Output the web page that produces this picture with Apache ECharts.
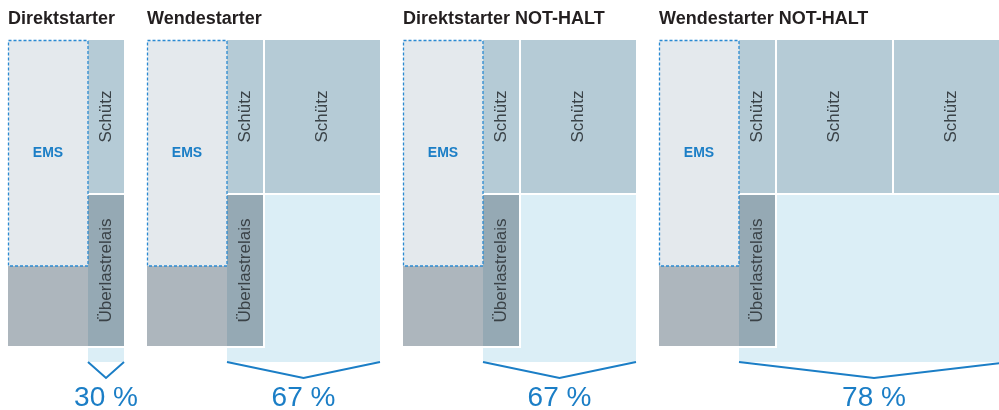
<!DOCTYPE html>
<html>
<head>
<meta charset="utf-8">
<script src="https://cdn.jsdelivr.net/npm/echarts@6/dist/echarts.min.js"></script>
<style>
  html, body { margin: 0; padding: 0; background: #fff; }
  #main { width: 999px; height: 410px; }
</style>
</head>
<body>
<div id="main"></div>
<script>
// Daten: vier Startervarianten
var starters = ['Direktstarter', 'Wendestarter', 'Direktstarter NOT-HALT', 'Wendestarter NOT-HALT'];
var extraSchuetz = [0, 1, 1, 2];   // zusätzliche Schütze je Variante
var savings = [30, 67, 67, 78];    // Platzersparnis in %

var chart = echarts.init(document.getElementById('main'));

// Layout (Achseneinheiten)
var EMS_W = 80, SCH_W = 36, BIG_W = 115, GAP = 2, PANEL_GAP = 23;
var TOP = 40, SCH_BOTTOM = 193, OVL_TOP = 195, EMS_BOTTOM = 266, BOTTOM = 346, BLUE_BOTTOM = 362, TIP = 378;

var panelLeft = [];
var left = 8;
for (var i = 0; i < starters.length; i++) {
    panelLeft.push(left);
    left += EMS_W + SCH_W + extraSchuetz[i] * (BIG_W + GAP) + PANEL_GAP;
}

var FONT = '"Liberation Sans", Arial, sans-serif';

function renderItem(params, api) {
    var i = api.value(0);
    var x0 = panelLeft[i];
    var right = x0 + EMS_W + SCH_W + extraSchuetz[i] * (BIG_W + GAP);
    var p = function (x, y) { return api.coord([x, y]); };
    var rect = function (x1, y1, x2, y2, style) {
        var a = p(x1, y1), b = p(x2, y2);
        return { type: 'rect', shape: { x: a[0], y: a[1], width: b[0] - a[0], height: b[1] - a[1] }, style: style };
    };
    var vtext = function (x, y, txt) {
        var c = p(x, y);
        return { type: 'text', x: c[0], y: c[1], rotation: Math.PI / 2,
            style: { text: txt, font: '17px ' + FONT, fill: '#3a4247', align: 'center', verticalAlign: 'middle' } };
    };
    var children = [];

    // hellblaue Fläche = gesparter Platz
    children.push(rect(x0 + EMS_W, OVL_TOP, right, BLUE_BOTTOM, { fill: '#dbeef6' }));

    // zusätzliche Schütze
    for (var k = 0; k < extraSchuetz[i]; k++) {
        var sx = x0 + EMS_W + SCH_W + GAP + k * (BIG_W + GAP);
        children.push(rect(sx, TOP, sx + BIG_W, SCH_BOTTOM, { fill: '#b5cbd6' }));
        children.push(vtext(sx + BIG_W / 2, (TOP + SCH_BOTTOM) / 2, 'Schütz'));
    }

    // weißer Rand, grauer Block, Überlastrelais
    children.push(rect(x0, OVL_TOP, x0 + EMS_W + SCH_W + GAP, BOTTOM + GAP, { fill: '#ffffff' }));
    children.push(rect(x0, EMS_BOTTOM, x0 + EMS_W, BOTTOM, { fill: '#adb6bd' }));
    children.push(rect(x0 + EMS_W, OVL_TOP, x0 + EMS_W + SCH_W, BOTTOM, { fill: '#95a9b4' }));
    children.push(vtext(x0 + EMS_W + SCH_W / 2, (OVL_TOP + BOTTOM) / 2, 'Überlastrelais'));

    // Schütz (schmal)
    children.push(rect(x0 + EMS_W, TOP, x0 + EMS_W + SCH_W, SCH_BOTTOM, { fill: '#b5cbd6' }));
    children.push(vtext(x0 + EMS_W + SCH_W / 2, (TOP + SCH_BOTTOM) / 2, 'Schütz'));

    // EMS gestrichelt
    children.push(rect(x0 + 0.5, TOP + 0.5, x0 + EMS_W, EMS_BOTTOM, {
        fill: '#e4e9ed', stroke: '#2a8ad2', lineWidth: 1.3, lineDash: [3, 2]
    }));
    var ec = p(x0 + EMS_W / 2, (TOP + EMS_BOTTOM) / 2);
    children.push({ type: 'text', x: ec[0], y: ec[1],
        style: { text: 'EMS', font: 'bold 14px ' + FONT, fill: '#1b7ec6', align: 'center', verticalAlign: 'middle' } });

    // Titel
    var tc = p(x0, 19);
    children.push({ type: 'text', x: tc[0], y: tc[1],
        style: { text: starters[i], font: 'bold 18px ' + FONT, fill: '#231f20', align: 'left', verticalAlign: 'middle' } });

    // Klammer / Pfeil
    var mid = (x0 + EMS_W + right) / 2;
    var a1 = p(x0 + EMS_W, BLUE_BOTTOM), a2 = p(mid, TIP), a3 = p(right, BLUE_BOTTOM);
    children.push({ type: 'polyline', shape: { points: [a1, a2, a3] },
        style: { fill: null, stroke: '#1b7ec6', lineWidth: 2 } });

    // Prozentwert
    var pc = p(mid, 398);
    children.push({ type: 'text', x: pc[0], y: pc[1],
        style: { text: savings[i] + ' %', font: '300 28px ' + FONT, fill: '#1b7ec6', align: 'center', verticalAlign: 'middle' } });

    return { type: 'group', children: children };
}

chart.setOption({
    animation: false,
    grid: { left: 0, right: 0, top: 0, bottom: 0 },
    xAxis: { type: 'value', min: 0, max: 999, show: false },
    yAxis: { type: 'value', min: 0, max: 410, inverse: true, show: false },
    series: [{
        type: 'custom',
        renderItem: renderItem,
        clip: true,
        data: starters.map(function (s, i) { return [i]; })
    }]
});
</script>
</body>
</html>
